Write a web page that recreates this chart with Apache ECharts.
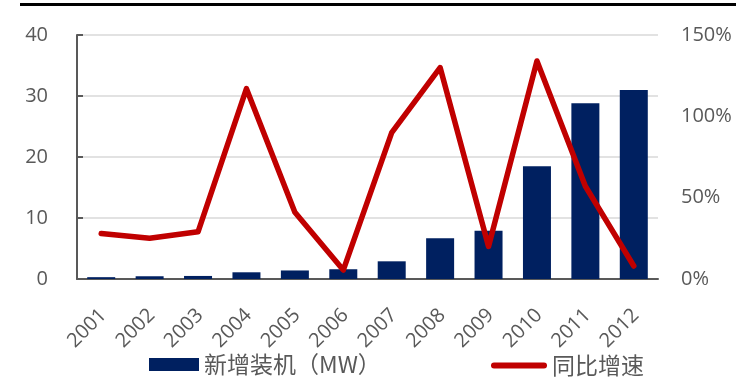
<!DOCTYPE html>
<html>
<head>
<meta charset="utf-8">
<script src="https://cdn.jsdelivr.net/npm/echarts@6/dist/echarts.min.js"></script>
<style>
  html, body { margin: 0; padding: 0; background: #fff; }
  #chart { width: 736px; height: 377px; }
</style>
</head>
<body>
<div id="chart"></div>
<script>
// Years on the category axis
const years = ['2001', '2002', '2003', '2004', '2005', '2006', '2007', '2008', '2009', '2010', '2011', '2012'];
// New installed capacity per year
const newCapacity = [0.3, 0.45, 0.5, 1.1, 1.4, 1.6, 2.9, 6.7, 7.9, 18.5, 28.8, 31.0];
// Year-on-year growth, in percent
const yoyGrowth = [28, 25, 29, 117, 41, 5.5, 90, 130, 20, 134, 57, 8];
// Axis ranges
const leftAxisTicks = [0, 10, 20, 30, 40];
const rightAxisTicks = [0, 50, 100, 150];

const barName = '新增装机（MW）';
const lineName = '同比增速';
const textGray = '#595959';
const latinFont = '"Open Sans", "Liberation Sans", sans-serif';
const cjkFont = '"Noto Sans CJK SC", "Noto Sans", sans-serif';

const chart = echarts.init(document.getElementById('chart'), null, { renderer: 'canvas' });

chart.setOption({
  animation: false,
  backgroundColor: '#ffffff',
  graphic: [{
    type: 'line',
    shape: { x1: 20, y1: 4.5, x2: 736, y2: 4.5 },
    style: { stroke: '#000000', lineWidth: 3 }
  }],
  grid: { left: 77, right: 78, top: 35, bottom: 98, containLabel: false },
  legend: [{
    data: [{ name: barName, icon: 'rect' }],
    left: 149, top: 353, padding: 0,
    itemWidth: 50, itemHeight: 13,
    textStyle: { color: textGray, fontSize: 23, fontFamily: cjkFont }
  }, {
    data: [{ name: lineName, icon: 'path://M3,0H53A3,3,0,0,1,53,6H3A3,3,0,0,1,3,0Z' }],
    left: 491, top: 354, padding: 0,
    itemWidth: 56, itemHeight: 6,
    textStyle: { color: textGray, fontSize: 23, fontFamily: cjkFont }
  }],
  xAxis: {
    type: 'category',
    data: years,
    boundaryGap: true,
    axisLine: { show: true, lineStyle: { color: textGray, width: 2 } },
    axisTick: { show: false },
    axisLabel: {
      interval: 0,
      rotate: 45,
      margin: 21,
      verticalAlign: 'top',
      padding: [0, 7, 0, 0],
      color: textGray,
      fontSize: 20,
      fontFamily: latinFont
    }
  },
  yAxis: [{
    type: 'value',
    min: leftAxisTicks[0],
    max: leftAxisTicks[leftAxisTicks.length - 1],
    interval: leftAxisTicks[1] - leftAxisTicks[0],
    axisLine: { show: true, lineStyle: { color: textGray, width: 2 } },
    axisTick: { show: true, inside: true, length: 6, lineStyle: { color: textGray, width: 2 } },
    splitLine: { show: true, lineStyle: { color: '#d9d9d9', width: 1.5 } },
    axisLabel: { margin: 29, color: textGray, fontSize: 20, fontFamily: latinFont }
  }, {
    type: 'value',
    min: rightAxisTicks[0],
    max: rightAxisTicks[rightAxisTicks.length - 1],
    interval: rightAxisTicks[1] - rightAxisTicks[0],
    axisLine: { show: false },
    axisTick: { show: false },
    splitLine: { show: false },
    axisLabel: { margin: 23, color: textGray, fontSize: 20, fontFamily: latinFont, formatter: '{value}%' }
  }],
  series: [{
    name: barName,
    type: 'bar',
    yAxisIndex: 0,
    data: newCapacity,
    barWidth: 28,
    itemStyle: { color: '#002060' }
  }, {
    name: lineName,
    type: 'line',
    yAxisIndex: 1,
    data: yoyGrowth,
    symbol: 'none',
    showSymbol: false,
    lineStyle: { color: '#c00000', width: 5.5, cap: 'round', join: 'round' },
    itemStyle: { color: '#c00000' }
  }]
});
</script>
</body>
</html>
